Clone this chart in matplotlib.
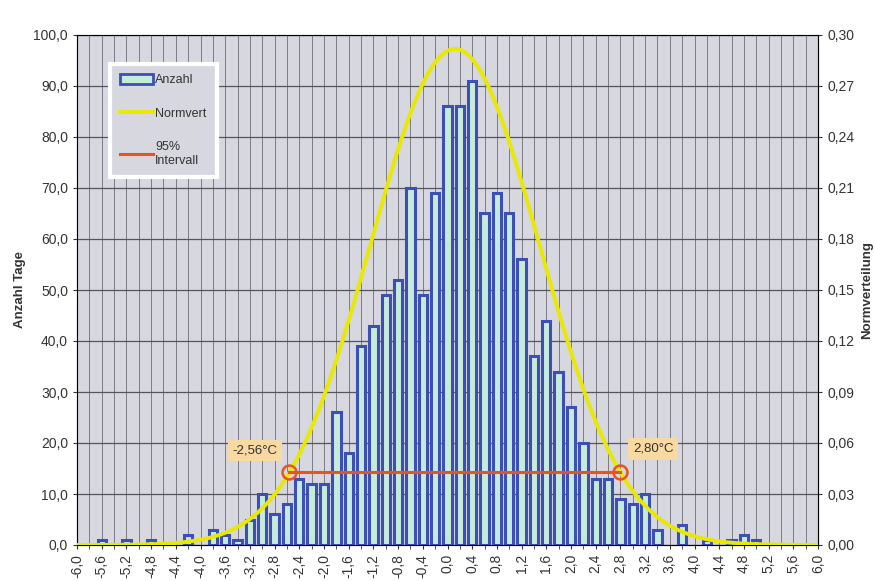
import numpy as np
import matplotlib.pyplot as plt
from matplotlib.ticker import FuncFormatter, MultipleLocator
from matplotlib.patches import Patch
from matplotlib.lines import Line2D

plt.rcParams['font.family'] = ['Liberation Sans', 'DejaVu Sans']

# categories -6,0 ... 6,0 in steps of 0,2
temp_diff = np.round(np.arange(-30, 31) * 0.2, 1)
anzahl = [0, 0, 1, 0, 1, 0, 1, 0, 0, 2,
          0, 3, 2, 1, 5, 10, 6, 8, 13, 12,
          12, 26, 18, 39, 43, 49, 52, 70, 49, 69,
          86, 86, 91, 65, 69, 65, 56, 37, 44, 34,
          27, 20, 13, 13, 9, 8, 10, 3, 0, 4,
          0, 1, 0, 1, 2, 1, 0, 0, 0, 0, 0]

# normal distribution parameters (from the 95% interval labels)
mu = 0.12
sigma = 1.367
interval = [-2.56, 2.80]
interval_labels = ['-2,56°C', '2,80°C']

bg = '#d7d7e0'
bar_face = '#c6ecd9'
bar_edge = '#3b4fb5'
yellow = '#e8e800'
red = '#ea5220'
txt = '#333333'


def comma(fmt):
    return FuncFormatter(lambda v, p: (fmt % (0.0 if abs(v) < 1e-9 else v)).replace('.', ','))


fig = plt.figure(figsize=(8.75, 5.81), dpi=100)
ax = fig.add_axes([77 / 875, 36 / 581, 741 / 875, 510 / 581])
ax.set_facecolor(bg)

cnt = np.array(anzahl, dtype=float)
mask = cnt > 0
ax.bar(temp_diff[mask], cnt[mask], width=0.135, color=bar_face,
       edgecolor=bar_edge, linewidth=2.2, zorder=3)

ax.set_xlim(-6.0, 6.0)
ax.set_ylim(0, 100)
ax.xaxis.set_major_locator(MultipleLocator(0.4))
ax.xaxis.set_minor_locator(MultipleLocator(0.2))
ax.yaxis.set_major_locator(MultipleLocator(10))
ax.xaxis.set_major_formatter(comma('%.1f'))
ax.yaxis.set_major_formatter(comma('%.1f'))
ax.grid(True, which='both', axis='x', color='#7c7c86', linewidth=0.7)
ax.grid(True, which='major', axis='y', color='#55555d', linewidth=0.9)
ax.set_axisbelow(True)
plt.setp(ax.get_xticklabels(), rotation=90)
ax.tick_params(axis='x', which='both', length=3, colors=txt, labelsize=10)
ax.tick_params(axis='y', length=3, colors=txt, labelsize=10)
for s in ax.spines.values():
    s.set_color('#77777f')
    s.set_linewidth(0.8)
ax.set_ylabel('Anzahl Tage', fontsize=9.5, fontweight='bold', color=txt, labelpad=5)

ax2 = ax.twinx()
ax2.set_ylim(0, 0.30)
ax2.yaxis.set_major_locator(MultipleLocator(0.03))
ax2.yaxis.set_major_formatter(comma('%.2f'))
ax2.tick_params(axis='y', length=3, colors=txt, labelsize=10)
ax2.set_ylabel('Normverteilung', fontsize=9.5, fontweight='bold', color=txt, labelpad=5)

xs = np.linspace(-6, 6, 400)
pdf = np.exp(-0.5 * ((xs - mu) / sigma) ** 2) / (sigma * np.sqrt(2 * np.pi))
ax2.plot(xs, pdf, color=yellow, linewidth=2.8, zorder=4)

ivals = np.array(interval)
iy = np.exp(-0.5 * ((ivals - mu) / sigma) ** 2) / (sigma * np.sqrt(2 * np.pi))
ax2.plot(ivals, [iy.mean(), iy.mean()], color=red, linewidth=2.2, zorder=5)
ax2.plot(ivals, [iy.mean(), iy.mean()], linestyle='none', marker='o', ms=10,
         mfc='none', mec=red, mew=1.8, zorder=6)

box = dict(boxstyle='square,pad=0.35', fc='#f8d9a2', ec='none')
ax2.text(-3.12, 0.0555, interval_labels[0], ha='center', va='center',
         fontsize=9.5, color=txt, bbox=box, zorder=7)
ax2.text(3.33, 0.0565, interval_labels[1], ha='center', va='center',
         fontsize=9.5, color=txt, bbox=box, zorder=7)

handles = [Patch(facecolor=bar_face, edgecolor=bar_edge, linewidth=2),
           Line2D([], [], color=yellow, linewidth=2.8),
           Line2D([], [], color=red, linewidth=2.2)]
leg = ax2.legend(handles, ['Anzahl', 'Normvert', '95%\nIntervall'],
                 loc='upper left', bbox_to_anchor=(0.045, 0.943),
                 fontsize=9, frameon=True, fancybox=False,
                 facecolor=bg, edgecolor='white', framealpha=1,
                 labelspacing=1.7, handlelength=2.6, handleheight=0.8,
                 handletextpad=0.2, borderpad=0.8, borderaxespad=0)
leg.get_frame().set_linewidth(3)
for t in leg.get_texts():
    t.set_color(txt)
leg.set_zorder(10)

fig.savefig('out.png', dpi=100, facecolor='white')
